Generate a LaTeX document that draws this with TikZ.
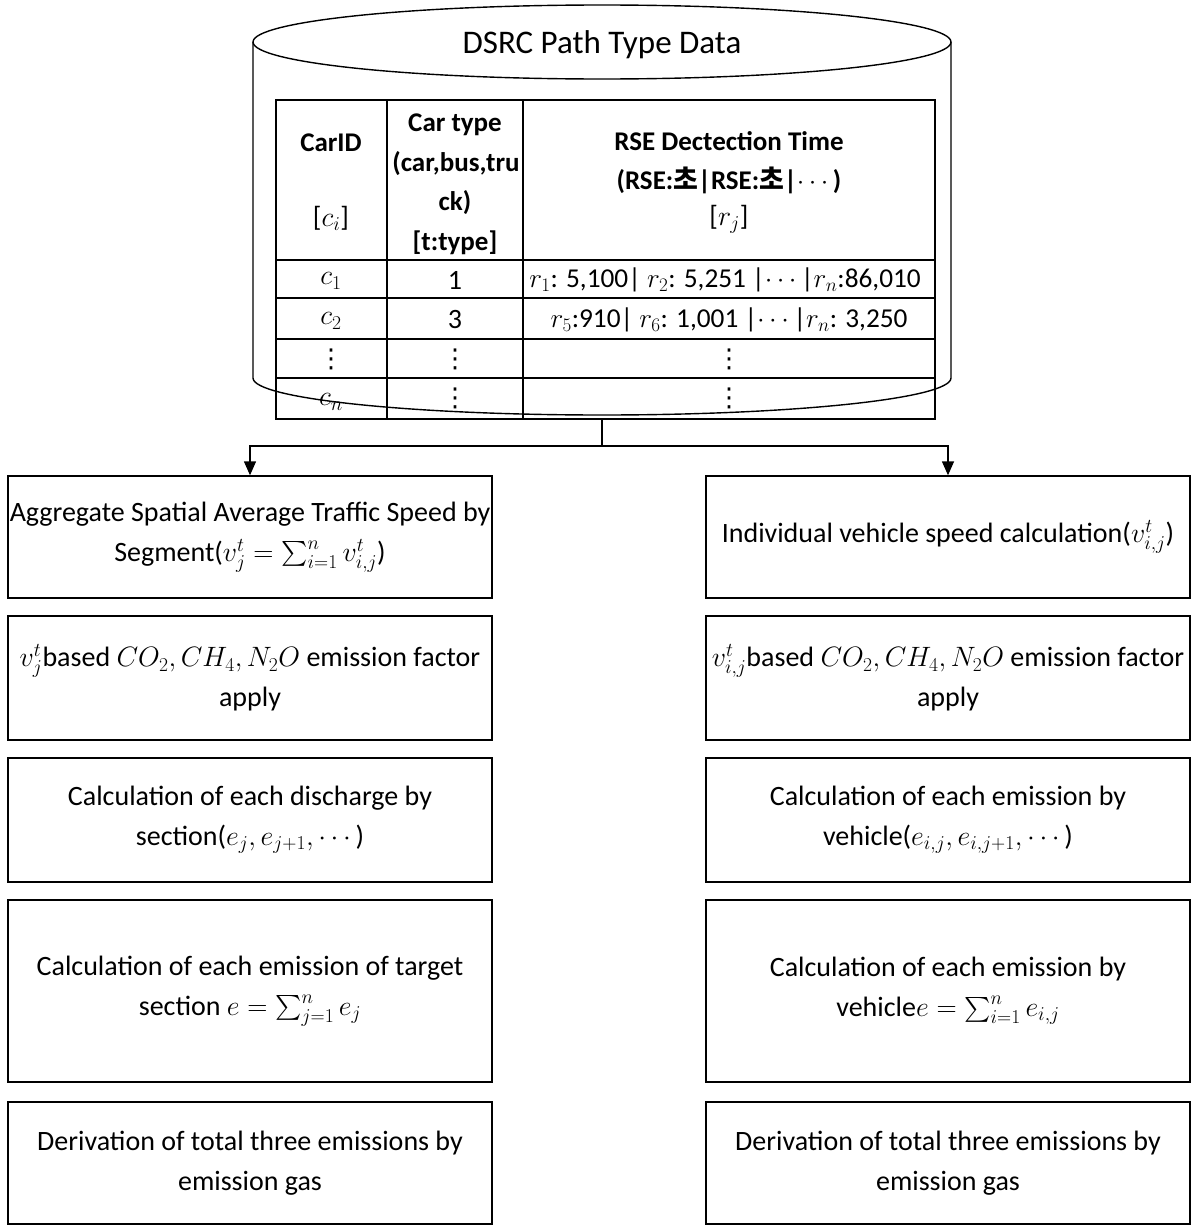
\RequirePackage{fix-cm}
\documentclass[tikz,border=0pt]{standalone}
\usepackage{amsmath}
\usepackage{fontspec}
\setmainfont{Carlito}
\newfontfamily\kr{Noto Sans CJK KR}
\newfontfamily\dv{DejaVu Sans}
\newcommand\vdd{{\dv ⋮}}
\usetikzlibrary{arrows.meta}
\begin{document}
\begin{tikzpicture}[x=1pt,y=-1pt,line width=1.4pt,
  box/.style={draw, minimum width=484pt, minimum height=#1, align=center, inner sep=0pt,
    font=\fontsize{28}{40}\selectfont},
  hd/.style={inner sep=0pt, font=\fontsize{27}{39}\selectfont\bfseries},
  cell/.style={inner sep=0pt, font=\fontsize{28}{34}\selectfont},
  row/.style={inner sep=0pt, font=\fontsize{27.3}{34}\selectfont},
  dts/.style={inner sep=0pt, font=\fontsize{26}{30}\selectfont},
  arr/.style={-{Triangle[length=14pt,width=12pt]}}]
\useasboundingbox (0,0) rectangle (1192,1226);

% database cylinder
\draw (602,42) ellipse [x radius=349pt, y radius=37pt];
\draw (253,42) -- (253,378) arc[start angle=180, end angle=360, x radius=349pt, y radius=37pt] -- (951,42);
\node[inner sep=0pt, font=\fontsize{33}{40}\selectfont] (title) at (602,45) {DSRC Path Type Data};

% table grid
\node[draw, minimum width=659pt, minimum height=319pt, inner sep=0pt] (tbl) at (605.5,259.5) {};
\draw (387,100) -- (387,419);
\draw (523,100) -- (523,419);
\draw (276,260) -- (935,260);
\draw (276,298) -- (935,298);
\draw (276,339) -- (935,339);
\draw (276,378) -- (935,378);

% header
\node[hd] (h1) at (331,143) {CarID};
\node[cell] (h1b) at (331,218) {[$c_i$]};
\node[hd] (h2a) at (455,125) {Car type};
\node[hd] (h2b) at (456,164) {(car,bus,tru};
\node[hd] (h2c) at (455,203) {ck)};
\node[hd] (h2d) at (455,243) {[t:type]};
\node[hd] (h3a) at (729,141) {RSE Dectection Time};
\node[hd] (h3b) at (729,180) {(RSE:{\kr 초}|RSE:{\kr 초}|$\cdots$)};
\node[cell] (h3c) at (729,219) {[$r_j$]};

% rows
\node[cell] (a1) at (331,281) {$c_1$};
\node[cell] (b1) at (455,280) {1};
\node[row] (d1) at (725,280) {$r_1$: 5,100| $r_2$: 5,251 |$\cdots$|$r_n$:86,010};
\node[cell] (a2) at (331,321) {$c_2$};
\node[cell] (b2) at (455,320) {3};
\node[row] (d2) at (729,320) {$r_5$:910| $r_6$: 1,001 |$\cdots$|$r_n$: 3,250};
\node[dts] (a3) at (331,359) {\vdd};
\node[dts] (b3) at (455,359) {\vdd};
\node[dts] (d3) at (729,359) {\vdd};
\node[cell] (a4) at (331,402) {$c_n$};
\node[dts] (b4) at (455,398) {\vdd};
\node[dts] (d4) at (729,398) {\vdd};

% left column boxes
\node[box=122pt] (L1) at (250,537) {Aggregate Spatial Average Traffic Speed by\\Segment($v_j^t=\sum_{i=1}^n v_{i,j}^t$)};
\node[box=124pt] (L2) at (250,678) {$v_j^t$based $CO_2,CH_4,N_2O$ emission factor\\apply};
\node[box=124pt] (L3) at (250,820) {Calculation of each discharge by\\section($e_j,e_{j+1},\cdots$)};
\node[box=182pt] (L4) at (250,991) {Calculation of each emission of target\\section $e=\sum_{j=1}^n e_j$};
\node[box=122pt] (L5) at (250,1163) {Derivation of total three emissions by\\emission gas};

% right column boxes
\node[box=122pt] (R1) at (948,537) {Individual vehicle speed calculation($v_{i,j}^t$)};
\node[box=124pt] (R2) at (948,678) {$v_{i,j}^t$based $CO_2,CH_4,N_2O$ emission factor\\apply};
\node[box=124pt] (R3) at (948,820) {Calculation of each emission by\\vehicle($e_{i,j},e_{i,j+1},\cdots$)};
\node[box=182pt] (R4) at (948,991) {Calculation of each emission by\\vehicle$e=\sum_{i=1}^n e_{i,j}$};
\node[box=122pt] (R5) at (948,1163) {Derivation of total three emissions by\\emission gas};

% connectors
\coordinate (db) at (602,419);
\coordinate (fork) at (602,446);
\draw (db) -- (fork);
\draw[arr] (fork) -| (L1.north);
\draw[arr] (fork) -| (R1.north);
\end{tikzpicture}
\end{document}
